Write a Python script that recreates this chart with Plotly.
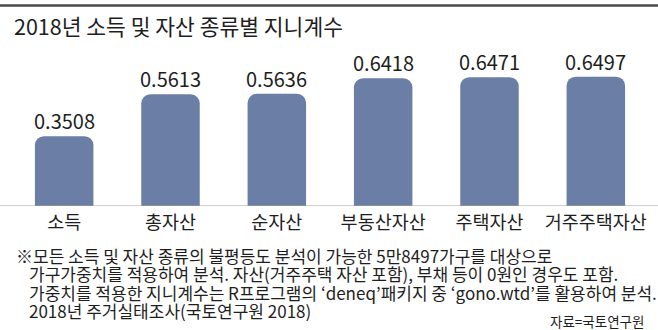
import plotly.graph_objects as go

# Gini coefficients by income / asset type, 2018
categories = ["소득", "총자산", "순자산", "부동산자산", "주택자산", "거주주택자산"]
gini = [0.3508, 0.5613, 0.5636, 0.6418, 0.6471, 0.6497]

title_text = "2018년 소득 및 자산 종류별 지니계수"
notes = [
    "※모든 소득 및 자산 종류의 불평등도 분석이 가능한 5만8497가구를 대상으로",
    "가구가중치를 적용하여 분석. 자산(거주주택 자산 포함), 부채 등이 0원인 경우도 포함.",
    "가중치를 적용한 지니계수는 R프로그램의 ‘deneq’패키지 중 ‘gono.wtd’를 활용하여 분석.",
    "2018년 주거실태조사(국토연구원 2018)",
]
source_text = "자료=국토연구원"

FONT = "Noto Sans CJK KR"
TEXT = "#1e1e1e"
BAR = "#6b7ea5"

W, H = 658, 330
ML, MR, MT, MB = 11, 9, 40, 124
PW, PH = W - ML - MR, H - MT - MB


def px(x):
    """pixel x -> paper x"""
    return (x - ML) / PW


def py(y):
    """pixel y (from top) -> paper y"""
    return (H - MB - y) / PH


fig = go.Figure()

fig.add_trace(go.Bar(
    x=categories,
    y=gini,
    marker=dict(color=BAR, cornerradius=9, line=dict(width=0)),
    width=0.55,
    hoverinfo="skip",
))

# value labels above each bar
for c, v in zip(categories, gini):
    fig.add_annotation(
        x=c, y=v, xref="x", yref="y",
        text=f"{v:.4f}", showarrow=False,
        yanchor="bottom", yshift=-1,
        font=dict(family=FONT, size=20, color=TEXT),
    )

# title and top rule
fig.add_shape(type="line", xref="paper", yref="paper", x0=px(0), x1=px(W),
              y0=py(5.5), y1=py(5.5), line=dict(color="#4a4a4a", width=2.5))
fig.add_annotation(
    xref="paper", yref="paper", x=px(12), y=py(25.5),
    xanchor="left", yanchor="middle", showarrow=False,
    text=title_text, font=dict(family=FONT, size=21.5, color=TEXT),
)

# baseline across the full width
fig.add_shape(type="line", xref="paper", yref="y", x0=px(0), x1=px(W),
              y0=0, y1=0, line=dict(color="#a0a0a0", width=1.2), layer="above")

# footnotes
note_y = [255, 273.5, 292, 310.5]
note_x = [14, 27, 27, 27]
for t, yy, xx in zip(notes, note_y, note_x):
    fig.add_annotation(
        xref="paper", yref="paper", x=px(xx), y=py(yy),
        xanchor="left", yanchor="middle", showarrow=False,
        text=t, font=dict(family=FONT, size=17, color=TEXT),
    )
fig.add_annotation(
    xref="paper", yref="paper", x=px(646), y=py(321),
    xanchor="right", yanchor="middle", showarrow=False,
    text=source_text, font=dict(family=FONT, size=13.5, color=TEXT),
)

fig.update_layout(
    width=W, height=H,
    margin=dict(l=ML, r=MR, t=MT, b=MB),
    paper_bgcolor="white", plot_bgcolor="white",
    showlegend=False,
    xaxis=dict(
        showline=False, showgrid=False, zeroline=False, ticks="",
        tickfont=dict(family=FONT, size=18.5, color=TEXT),
        ticklabelstandoff=3,
        fixedrange=True,
    ),
    yaxis=dict(
        range=[0, PH / 199], visible=False, showgrid=False, zeroline=False,
        fixedrange=True,
    ),
)

fig.write_html("out.html")
